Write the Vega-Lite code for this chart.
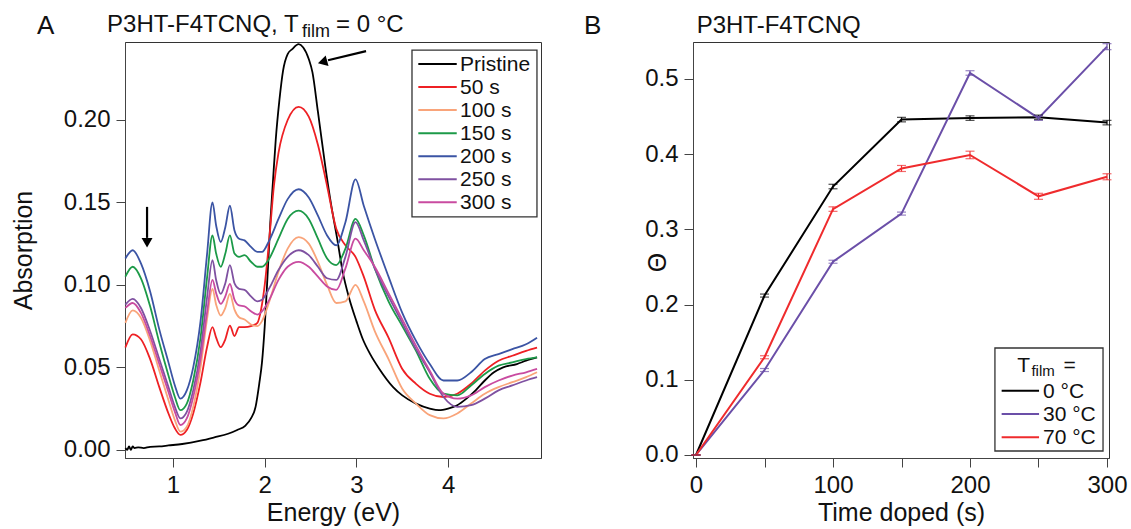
{
  "$schema": "https://vega.github.io/schema/vega-lite/v6.json",
  "background": "white",
  "padding": {"left": 10, "top": 12, "right": 0, "bottom": 3},
  "bounds": "flush",
  "spacing": 152,
  "resolve": {"scale": {"color": "independent"}, "legend": {"color": "independent"}},
  "config": {
    "font": "Liberation Sans",
    "view": {"stroke": "#333", "strokeWidth": 1},
    "axis": {"labelFont": "Liberation Sans", "titleFont": "Liberation Sans", "labelFontSize": 24, "titleFontSize": 25, "titleFontWeight": "normal", "labelColor": "#111", "titleColor": "#111", "tickColor": "#444", "domainColor": "#444", "tickSize": 9, "grid": false, "labelPadding": 6}
  },
  "datasets": {
    "spectra": [
      {"s":"Pristine","e":0.48,"a":0.001},{"s":"Pristine","e":0.50,"a":0.0},{"s":"Pristine","e":0.52,"a":0.002},{"s":"Pristine","e":0.54,"a":0.0},{"s":"Pristine","e":0.56,"a":0.002},{"s":"Pristine","e":0.58,"a":0.001},{"s":"Pristine","e":0.62,"a":0.0015},{"s":"Pristine","e":0.68,"a":0.001},{"s":"Pristine","e":0.75,"a":0.0018},{"s":"Pristine","e":0.85,"a":0.002},{"s":"Pristine","e":0.95,"a":0.0026},{"s":"Pristine","e":1.1,"a":0.0035},{"s":"Pristine","e":1.3,"a":0.0055},{"s":"Pristine","e":1.45,"a":0.0075},{"s":"Pristine","e":1.6,"a":0.0097},{"s":"Pristine","e":1.7,"a":0.012},{"s":"Pristine","e":1.79,"a":0.0147},{"s":"Pristine","e":1.85,"a":0.019},{"s":"Pristine","e":1.9,"a":0.026},{"s":"Pristine","e":1.94,"a":0.040},{"s":"Pristine","e":1.97,"a":0.053},{"s":"Pristine","e":2.0,"a":0.075},{"s":"Pristine","e":2.03,"a":0.105},{"s":"Pristine","e":2.06,"a":0.137},{"s":"Pristine","e":2.09,"a":0.163},{"s":"Pristine","e":2.12,"a":0.188},{"s":"Pristine","e":2.16,"a":0.212},{"s":"Pristine","e":2.2,"a":0.230},{"s":"Pristine","e":2.25,"a":0.240},{"s":"Pristine","e":2.3,"a":0.243},{"s":"Pristine","e":2.37,"a":0.246},{"s":"Pristine","e":2.42,"a":0.244},{"s":"Pristine","e":2.48,"a":0.237},{"s":"Pristine","e":2.52,"a":0.229},{"s":"Pristine","e":2.58,"a":0.205},{"s":"Pristine","e":2.66,"a":0.172},{"s":"Pristine","e":2.72,"a":0.150},{"s":"Pristine","e":2.79,"a":0.128},{"s":"Pristine","e":2.85,"a":0.108},{"s":"Pristine","e":2.92,"a":0.092},{"s":"Pristine","e":3.0,"a":0.078},{"s":"Pristine","e":3.07,"a":0.067},{"s":"Pristine","e":3.15,"a":0.058},{"s":"Pristine","e":3.25,"a":0.049},{"s":"Pristine","e":3.4,"a":0.038},{"s":"Pristine","e":3.5,"a":0.033},{"s":"Pristine","e":3.65,"a":0.028},{"s":"Pristine","e":3.8,"a":0.025},{"s":"Pristine","e":3.9,"a":0.024},{"s":"Pristine","e":4.0,"a":0.025},{"s":"Pristine","e":4.1,"a":0.027},{"s":"Pristine","e":4.2,"a":0.031},{"s":"Pristine","e":4.3,"a":0.036},{"s":"Pristine","e":4.4,"a":0.042},{"s":"Pristine","e":4.5,"a":0.047},{"s":"Pristine","e":4.6,"a":0.050},{"s":"Pristine","e":4.75,"a":0.052},{"s":"Pristine","e":4.85,"a":0.054},{"s":"Pristine","e":4.97,"a":0.056},

      {"s":"50 s","e":0.48,"a":0.062},{"s":"50 s","e":0.56,"a":0.070},{"s":"50 s","e":0.65,"a":0.067},{"s":"50 s","e":0.75,"a":0.055},{"s":"50 s","e":0.85,"a":0.038},{"s":"50 s","e":0.95,"a":0.022},{"s":"50 s","e":1.02,"a":0.013},{"s":"50 s","e":1.08,"a":0.009},{"s":"50 s","e":1.15,"a":0.012},{"s":"50 s","e":1.22,"a":0.022},{"s":"50 s","e":1.30,"a":0.041},{"s":"50 s","e":1.37,"a":0.062},{"s":"50 s","e":1.43,"a":0.0744},{"s":"50 s","e":1.47,"a":0.068},{"s":"50 s","e":1.52,"a":0.0622},{"s":"50 s","e":1.57,"a":0.067},{"s":"50 s","e":1.62,"a":0.0753},{"s":"50 s","e":1.67,"a":0.069},{"s":"50 s","e":1.72,"a":0.0744},{"s":"50 s","e":1.78,"a":0.0744},{"s":"50 s","e":1.85,"a":0.075},{"s":"50 s","e":1.92,"a":0.077},{"s":"50 s","e":1.96,"a":0.085},{"s":"50 s","e":2.0,"a":0.100},{"s":"50 s","e":2.05,"a":0.128},{"s":"50 s","e":2.1,"a":0.160},{"s":"50 s","e":2.15,"a":0.180},{"s":"50 s","e":2.25,"a":0.200},{"s":"50 s","e":2.37,"a":0.208},{"s":"50 s","e":2.48,"a":0.202},{"s":"50 s","e":2.58,"a":0.185},{"s":"50 s","e":2.68,"a":0.160},{"s":"50 s","e":2.78,"a":0.134},{"s":"50 s","e":2.88,"a":0.124},{"s":"50 s","e":2.99,"a":0.117},{"s":"50 s","e":3.08,"a":0.105},{"s":"50 s","e":3.2,"a":0.085},{"s":"50 s","e":3.35,"a":0.068},{"s":"50 s","e":3.5,"a":0.049},{"s":"50 s","e":3.65,"a":0.040},{"s":"50 s","e":3.8,"a":0.034},{"s":"50 s","e":3.95,"a":0.032},{"s":"50 s","e":4.1,"a":0.034},{"s":"50 s","e":4.25,"a":0.040},{"s":"50 s","e":4.4,"a":0.048},{"s":"50 s","e":4.55,"a":0.054},{"s":"50 s","e":4.7,"a":0.057},{"s":"50 s","e":4.85,"a":0.060},{"s":"50 s","e":4.97,"a":0.062},

      {"s":"100 s","e":0.48,"a":0.077},{"s":"100 s","e":0.56,"a":0.0845},{"s":"100 s","e":0.65,"a":0.080},{"s":"100 s","e":0.75,"a":0.066},{"s":"100 s","e":0.85,"a":0.048},{"s":"100 s","e":0.95,"a":0.030},{"s":"100 s","e":1.02,"a":0.018},{"s":"100 s","e":1.08,"a":0.011},{"s":"100 s","e":1.15,"a":0.014},{"s":"100 s","e":1.22,"a":0.026},{"s":"100 s","e":1.30,"a":0.050},{"s":"100 s","e":1.37,"a":0.079},{"s":"100 s","e":1.43,"a":0.0976},{"s":"100 s","e":1.47,"a":0.088},{"s":"100 s","e":1.52,"a":0.0814},{"s":"100 s","e":1.57,"a":0.086},{"s":"100 s","e":1.62,"a":0.0945},{"s":"100 s","e":1.67,"a":0.085},{"s":"100 s","e":1.72,"a":0.0804},{"s":"100 s","e":1.78,"a":0.079},{"s":"100 s","e":1.85,"a":0.076},{"s":"100 s","e":1.92,"a":0.075},{"s":"100 s","e":1.97,"a":0.078},{"s":"100 s","e":2.05,"a":0.090},{"s":"100 s","e":2.15,"a":0.108},{"s":"100 s","e":2.25,"a":0.122},{"s":"100 s","e":2.37,"a":0.129},{"s":"100 s","e":2.48,"a":0.125},{"s":"100 s","e":2.58,"a":0.114},{"s":"100 s","e":2.68,"a":0.100},{"s":"100 s","e":2.78,"a":0.089},{"s":"100 s","e":2.88,"a":0.090},{"s":"100 s","e":2.99,"a":0.100},{"s":"100 s","e":3.08,"a":0.090},{"s":"100 s","e":3.2,"a":0.072},{"s":"100 s","e":3.35,"a":0.055},{"s":"100 s","e":3.5,"a":0.037},{"s":"100 s","e":3.65,"a":0.028},{"s":"100 s","e":3.8,"a":0.021},{"s":"100 s","e":3.95,"a":0.019},{"s":"100 s","e":4.1,"a":0.022},{"s":"100 s","e":4.25,"a":0.028},{"s":"100 s","e":4.4,"a":0.034},{"s":"100 s","e":4.55,"a":0.038},{"s":"100 s","e":4.7,"a":0.041},{"s":"100 s","e":4.85,"a":0.044},{"s":"100 s","e":4.97,"a":0.047},

      {"s":"150 s","e":0.48,"a":0.105},{"s":"150 s","e":0.56,"a":0.111},{"s":"150 s","e":0.65,"a":0.104},{"s":"150 s","e":0.75,"a":0.087},{"s":"150 s","e":0.85,"a":0.065},{"s":"150 s","e":0.95,"a":0.045},{"s":"150 s","e":1.02,"a":0.032},{"s":"150 s","e":1.08,"a":0.024},{"s":"150 s","e":1.15,"a":0.028},{"s":"150 s","e":1.22,"a":0.042},{"s":"150 s","e":1.30,"a":0.068},{"s":"150 s","e":1.37,"a":0.104},{"s":"150 s","e":1.43,"a":0.130},{"s":"150 s","e":1.47,"a":0.119},{"s":"150 s","e":1.52,"a":0.111},{"s":"150 s","e":1.57,"a":0.119},{"s":"150 s","e":1.62,"a":0.130},{"s":"150 s","e":1.67,"a":0.119},{"s":"150 s","e":1.72,"a":0.117},{"s":"150 s","e":1.78,"a":0.118},{"s":"150 s","e":1.85,"a":0.114},{"s":"150 s","e":1.92,"a":0.111},{"s":"150 s","e":1.97,"a":0.111},{"s":"150 s","e":2.05,"a":0.116},{"s":"150 s","e":2.15,"a":0.128},{"s":"150 s","e":2.25,"a":0.140},{"s":"150 s","e":2.37,"a":0.145},{"s":"150 s","e":2.48,"a":0.140},{"s":"150 s","e":2.58,"a":0.128},{"s":"150 s","e":2.68,"a":0.116},{"s":"150 s","e":2.78,"a":0.112},{"s":"150 s","e":2.88,"a":0.122},{"s":"150 s","e":2.99,"a":0.140},{"s":"150 s","e":3.08,"a":0.130},{"s":"150 s","e":3.2,"a":0.110},{"s":"150 s","e":3.35,"a":0.090},{"s":"150 s","e":3.5,"a":0.075},{"s":"150 s","e":3.65,"a":0.060},{"s":"150 s","e":3.8,"a":0.043},{"s":"150 s","e":3.95,"a":0.034},{"s":"150 s","e":4.1,"a":0.033},{"s":"150 s","e":4.25,"a":0.039},{"s":"150 s","e":4.4,"a":0.046},{"s":"150 s","e":4.55,"a":0.051},{"s":"150 s","e":4.7,"a":0.053},{"s":"150 s","e":4.85,"a":0.055},{"s":"150 s","e":4.97,"a":0.056},

      {"s":"200 s","e":0.48,"a":0.116},{"s":"200 s","e":0.56,"a":0.121},{"s":"200 s","e":0.65,"a":0.113},{"s":"200 s","e":0.75,"a":0.096},{"s":"200 s","e":0.85,"a":0.073},{"s":"200 s","e":0.95,"a":0.053},{"s":"200 s","e":1.02,"a":0.039},{"s":"200 s","e":1.08,"a":0.031},{"s":"200 s","e":1.15,"a":0.036},{"s":"200 s","e":1.22,"a":0.050},{"s":"200 s","e":1.30,"a":0.078},{"s":"200 s","e":1.37,"a":0.118},{"s":"200 s","e":1.43,"a":0.150},{"s":"200 s","e":1.47,"a":0.136},{"s":"200 s","e":1.52,"a":0.126},{"s":"200 s","e":1.57,"a":0.135},{"s":"200 s","e":1.62,"a":0.148},{"s":"200 s","e":1.67,"a":0.133},{"s":"200 s","e":1.72,"a":0.128},{"s":"200 s","e":1.78,"a":0.127},{"s":"200 s","e":1.85,"a":0.123},{"s":"200 s","e":1.92,"a":0.120},{"s":"200 s","e":1.97,"a":0.120},{"s":"200 s","e":2.05,"a":0.127},{"s":"200 s","e":2.15,"a":0.140},{"s":"200 s","e":2.25,"a":0.152},{"s":"200 s","e":2.37,"a":0.158},{"s":"200 s","e":2.48,"a":0.153},{"s":"200 s","e":2.58,"a":0.142},{"s":"200 s","e":2.68,"a":0.130},{"s":"200 s","e":2.78,"a":0.124},{"s":"200 s","e":2.88,"a":0.138},{"s":"200 s","e":2.99,"a":0.164},{"s":"200 s","e":3.08,"a":0.148},{"s":"200 s","e":3.2,"a":0.128},{"s":"200 s","e":3.35,"a":0.105},{"s":"200 s","e":3.5,"a":0.083},{"s":"200 s","e":3.65,"a":0.066},{"s":"200 s","e":3.8,"a":0.052},{"s":"200 s","e":3.95,"a":0.042},{"s":"200 s","e":4.1,"a":0.042},{"s":"200 s","e":4.25,"a":0.047},{"s":"200 s","e":4.4,"a":0.055},{"s":"200 s","e":4.55,"a":0.058},{"s":"200 s","e":4.7,"a":0.061},{"s":"200 s","e":4.85,"a":0.064},{"s":"200 s","e":4.97,"a":0.068},

      {"s":"250 s","e":0.48,"a":0.088},{"s":"250 s","e":0.56,"a":0.0915},{"s":"250 s","e":0.65,"a":0.086},{"s":"250 s","e":0.75,"a":0.072},{"s":"250 s","e":0.85,"a":0.055},{"s":"250 s","e":0.95,"a":0.038},{"s":"250 s","e":1.02,"a":0.026},{"s":"250 s","e":1.08,"a":0.019},{"s":"250 s","e":1.15,"a":0.023},{"s":"250 s","e":1.22,"a":0.036},{"s":"250 s","e":1.30,"a":0.060},{"s":"250 s","e":1.37,"a":0.092},{"s":"250 s","e":1.43,"a":0.115},{"s":"250 s","e":1.47,"a":0.103},{"s":"250 s","e":1.52,"a":0.0945},{"s":"250 s","e":1.57,"a":0.101},{"s":"250 s","e":1.62,"a":0.112},{"s":"250 s","e":1.67,"a":0.101},{"s":"250 s","e":1.72,"a":0.0976},{"s":"250 s","e":1.78,"a":0.097},{"s":"250 s","e":1.85,"a":0.093},{"s":"250 s","e":1.92,"a":0.090},{"s":"250 s","e":1.97,"a":0.091},{"s":"250 s","e":2.05,"a":0.098},{"s":"250 s","e":2.15,"a":0.109},{"s":"250 s","e":2.25,"a":0.117},{"s":"250 s","e":2.37,"a":0.121},{"s":"250 s","e":2.48,"a":0.118},{"s":"250 s","e":2.58,"a":0.111},{"s":"250 s","e":2.68,"a":0.104},{"s":"250 s","e":2.78,"a":0.103},{"s":"250 s","e":2.88,"a":0.117},{"s":"250 s","e":2.99,"a":0.138},{"s":"250 s","e":3.08,"a":0.127},{"s":"250 s","e":3.2,"a":0.110},{"s":"250 s","e":3.35,"a":0.093},{"s":"250 s","e":3.5,"a":0.077},{"s":"250 s","e":3.65,"a":0.061},{"s":"250 s","e":3.8,"a":0.047},{"s":"250 s","e":3.95,"a":0.032},{"s":"250 s","e":4.1,"a":0.026},{"s":"250 s","e":4.25,"a":0.027},{"s":"250 s","e":4.4,"a":0.031},{"s":"250 s","e":4.55,"a":0.036},{"s":"250 s","e":4.7,"a":0.039},{"s":"250 s","e":4.85,"a":0.042},{"s":"250 s","e":4.97,"a":0.044},

      {"s":"300 s","e":0.48,"a":0.086},{"s":"300 s","e":0.56,"a":0.089},{"s":"300 s","e":0.65,"a":0.083},{"s":"300 s","e":0.75,"a":0.069},{"s":"300 s","e":0.85,"a":0.052},{"s":"300 s","e":0.95,"a":0.035},{"s":"300 s","e":1.02,"a":0.023},{"s":"300 s","e":1.08,"a":0.015},{"s":"300 s","e":1.15,"a":0.019},{"s":"300 s","e":1.22,"a":0.032},{"s":"300 s","e":1.30,"a":0.055},{"s":"300 s","e":1.37,"a":0.083},{"s":"300 s","e":1.43,"a":0.103},{"s":"300 s","e":1.47,"a":0.095},{"s":"300 s","e":1.52,"a":0.0885},{"s":"300 s","e":1.57,"a":0.093},{"s":"300 s","e":1.62,"a":0.1006},{"s":"300 s","e":1.67,"a":0.091},{"s":"300 s","e":1.72,"a":0.0875},{"s":"300 s","e":1.78,"a":0.087},{"s":"300 s","e":1.85,"a":0.084},{"s":"300 s","e":1.92,"a":0.082},{"s":"300 s","e":1.97,"a":0.084},{"s":"300 s","e":2.05,"a":0.091},{"s":"300 s","e":2.15,"a":0.103},{"s":"300 s","e":2.25,"a":0.111},{"s":"300 s","e":2.37,"a":0.114},{"s":"300 s","e":2.48,"a":0.111},{"s":"300 s","e":2.58,"a":0.105},{"s":"300 s","e":2.68,"a":0.099},{"s":"300 s","e":2.78,"a":0.097},{"s":"300 s","e":2.88,"a":0.110},{"s":"300 s","e":2.99,"a":0.128},{"s":"300 s","e":3.08,"a":0.121},{"s":"300 s","e":3.2,"a":0.111},{"s":"300 s","e":3.35,"a":0.095},{"s":"300 s","e":3.5,"a":0.079},{"s":"300 s","e":3.65,"a":0.063},{"s":"300 s","e":3.8,"a":0.048},{"s":"300 s","e":3.95,"a":0.034},{"s":"300 s","e":4.1,"a":0.031},{"s":"300 s","e":4.25,"a":0.033},{"s":"300 s","e":4.4,"a":0.038},{"s":"300 s","e":4.55,"a":0.042},{"s":"300 s","e":4.7,"a":0.045},{"s":"300 s","e":4.85,"a":0.047},{"s":"300 s","e":4.97,"a":0.049}
    ],
    "theta": [
      {"t":"0 °C","time":0,"v":0.0,"err":0.0},{"t":"0 °C","time":50,"v":0.212,"err":0.002},{"t":"0 °C","time":100,"v":0.357,"err":0.003},{"t":"0 °C","time":150,"v":0.446,"err":0.003},{"t":"0 °C","time":200,"v":0.448,"err":0.003},{"t":"0 °C","time":250,"v":0.449,"err":0.003},{"t":"0 °C","time":300,"v":0.442,"err":0.003},
      {"t":"30 °C","time":0,"v":0.0,"err":0.0},{"t":"30 °C","time":50,"v":0.113,"err":0.002},{"t":"30 °C","time":100,"v":0.257,"err":0.002},{"t":"30 °C","time":150,"v":0.321,"err":0.002},{"t":"30 °C","time":200,"v":0.508,"err":0.003},{"t":"30 °C","time":250,"v":0.448,"err":0.003},{"t":"30 °C","time":300,"v":0.543,"err":0.004},
      {"t":"70 °C","time":0,"v":0.0,"err":0.0},{"t":"70 °C","time":50,"v":0.130,"err":0.002},{"t":"70 °C","time":100,"v":0.327,"err":0.003},{"t":"70 °C","time":150,"v":0.381,"err":0.004},{"t":"70 °C","time":200,"v":0.399,"err":0.005},{"t":"70 °C","time":250,"v":0.344,"err":0.004},{"t":"70 °C","time":300,"v":0.370,"err":0.004}
    ],
    "one": [{}],
    "legA": [{"s":"Pristine"},{"s":"50 s"},{"s":"100 s"},{"s":"150 s"},{"s":"200 s"},{"s":"250 s"},{"s":"300 s"}],
    "legB": [{"t":"0 °C"},{"t":"30 °C"},{"t":"70 °C"}]
  },
  "hconcat": [
    {
      "width": 416,
      "height": 416,
      "resolve": {"scale": {"y": "independent"}},
      "layer": [
        {
          "layer": [
            {
              "data": {"name": "spectra"},
              "mark": {"type": "line", "strokeWidth": 1.8, "interpolate": "monotone"},
              "encoding": {
                "x": {"field": "e", "type": "quantitative", "scale": {"domain": [0.476, 5.013], "nice": false, "zero": false}, "axis": {"title": "Energy (eV)", "values": [1, 2, 3, 4], "format": "d", "titlePadding": 3}},
                "y": {"field": "a", "type": "quantitative", "scale": {"domain": [-0.005, 0.2473], "nice": false, "zero": false}, "axis": {"title": "Absorption", "values": [0, 0.05, 0.1, 0.15, 0.2], "format": ".2f", "titlePadding": 27}},
                "color": {"field": "s", "type": "nominal", "scale": {"domain": ["Pristine", "50 s", "100 s", "150 s", "200 s", "250 s", "300 s"], "range": ["#000000", "#ee2024", "#f9a47a", "#1c9a48", "#3b54a4", "#7f51a1", "#c94ba0"]}, "legend": null},
                "order": {"field": "e", "type": "quantitative"}
              }
            },
            {
              "data": {"name": "one"},
              "mark": {"type": "rect", "fill": "white", "stroke": "#333", "strokeWidth": 1.3},
              "encoding": {"x": {"datum": 3.606}, "x2": {"datum": 4.969}, "y": {"datum": 0.2424}, "y2": {"datum": 0.1412}}
            },
            {
              "data": {"name": "one"},
              "mark": {"type": "rule", "strokeWidth": 2.2, "color": "black"},
              "encoding": {"x": {"datum": 0.7165}, "y": {"datum": 0.1473}, "y2": {"datum": 0.1285}}
            },
            {
              "data": {"name": "one"},
              "mark": {"type": "point", "shape": "triangle-down", "filled": true, "color": "black", "size": 120, "opacity": 1},
              "encoding": {"x": {"datum": 0.7165}, "y": {"datum": 0.1255}}
            },
            {
              "data": {"name": "one"},
              "mark": {"type": "rule", "strokeWidth": 2.2, "color": "black"},
              "encoding": {"x": {"datum": 3.105}, "y": {"datum": 0.2418}, "x2": {"datum": 2.69}, "y2": {"datum": 0.2362}}
            },
            {
              "data": {"name": "one"},
              "mark": {"type": "point", "shape": "triangle-left", "filled": true, "color": "black", "size": 120, "angle": 345, "opacity": 1},
              "encoding": {"x": {"datum": 2.63}, "y": {"datum": 0.2352}}
            },
            {
              "data": {"name": "one"},
              "mark": {"type": "text", "align": "left", "baseline": "alphabetic", "fontSize": 26, "color": "#111"},
              "encoding": {"x": {"datum": -0.483}, "y": {"datum": 0.2521}, "text": {"value": "A"}}
            },
            {
              "data": {"name": "one"},
              "mark": {"type": "text", "align": "left", "baseline": "alphabetic", "fontSize": 24, "color": "#111"},
              "encoding": {"x": {"datum": 0.28}, "y": {"datum": 0.2533}, "text": {"value": "P3HT-F4TCNQ, T"}}
            },
            {
              "data": {"name": "one"},
              "mark": {"type": "text", "align": "left", "baseline": "alphabetic", "fontSize": 18, "color": "#111"},
              "encoding": {"x": {"datum": 2.407}, "y": {"datum": 0.2503}, "text": {"value": "film"}}
            },
            {
              "data": {"name": "one"},
              "mark": {"type": "text", "align": "left", "baseline": "alphabetic", "fontSize": 24, "color": "#111"},
              "encoding": {"x": {"datum": 2.778}, "y": {"datum": 0.2533}, "text": {"value": "= 0 °C"}}
            }
          ]
        },
        {
          "data": {"name": "legA"},
          "layer": [
            {
              "mark": {"type": "rule", "strokeWidth": 2},
              "encoding": {
                "x": {"datum": 3.675},
                "x2": {"datum": 4.094},
                "y": {"field": "s", "type": "ordinal", "scale": {"type": "point", "domain": ["Pristine", "50 s", "100 s", "150 s", "200 s", "250 s", "300 s"], "range": [22, 160.3], "padding": 0}, "axis": null},
                "color": {"field": "s", "type": "nominal", "legend": null}
              }
            },
            {
              "mark": {"type": "text", "align": "left", "baseline": "middle", "fontSize": 21, "color": "#111", "dy": 1},
              "encoding": {
                "x": {"datum": 4.13},
                "y": {"field": "s", "type": "ordinal"},
                "text": {"field": "s"}
              }
            }
          ]
        }
      ]
    },
    {
      "width": 416,
      "height": 416,
      "resolve": {"scale": {"y": "independent"}},
      "layer": [
        {
          "layer": [
            {
              "data": {"name": "theta"},
              "mark": {"type": "line", "strokeWidth": 2},
              "encoding": {
                "x": {"field": "time", "type": "quantitative", "scale": {"domain": [-2.19, 301.46], "nice": false, "zero": false}, "axis": {"title": "Time doped (s)", "values": [0, 50, 100, 150, 200, 250, 300], "labelExpr": "datum.value % 100 == 0 ? format(datum.value, 'd') : ''", "titlePadding": 3}},
                "y": {"field": "v", "type": "quantitative", "scale": {"domain": [-0.004, 0.5492], "nice": false, "zero": false}, "axis": {"title": "Θ", "values": [0, 0.1, 0.2, 0.3, 0.4, 0.5], "format": ".1f", "titlePadding": -26, "titleY": 220}},
                "color": {"field": "t", "type": "nominal", "scale": {"domain": ["0 °C", "30 °C", "70 °C"], "range": ["#000000", "#6b4fa8", "#ef2b2d"]}, "legend": null}
              }
            },
            {
              "data": {"name": "theta"},
              "mark": {"type": "errorbar", "ticks": {"size": 9}, "thickness": 1.2},
              "encoding": {
                "x": {"field": "time", "type": "quantitative"},
                "y": {"field": "v", "type": "quantitative", "title": "Θ"},
                "yError": {"field": "err"},
                "color": {"field": "t", "type": "nominal", "legend": null}
              }
            },
            {
              "data": {"name": "one"},
              "mark": {"type": "rect", "fill": "white", "stroke": "#333", "strokeWidth": 1.3},
              "encoding": {"x": {"datum": 218.2}, "x2": {"datum": 297.1}, "y": {"datum": 0.1423}, "y2": {"datum": 0.0053}}
            },
            {
              "data": {"name": "one"},
              "mark": {"type": "text", "align": "left", "baseline": "alphabetic", "fontSize": 26, "color": "#111"},
              "encoding": {"x": {"datum": -81.8}, "y": {"datum": 0.5598}, "text": {"value": "B"}}
            },
            {
              "data": {"name": "one"},
              "mark": {"type": "text", "align": "left", "baseline": "alphabetic", "fontSize": 24, "color": "#111"},
              "encoding": {"x": {"datum": 0.5}, "y": {"datum": 0.5612}, "text": {"value": "P3HT-F4TCNQ"}}
            },
            {
              "data": {"name": "one"},
              "mark": {"type": "text", "align": "left", "baseline": "alphabetic", "fontSize": 21, "color": "#111"},
              "encoding": {"x": {"datum": 234.5}, "y": {"datum": 0.1104}, "text": {"value": "T"}}
            },
            {
              "data": {"name": "one"},
              "mark": {"type": "text", "align": "left", "baseline": "alphabetic", "fontSize": 15, "color": "#111"},
              "encoding": {"x": {"datum": 244.8}, "y": {"datum": 0.1051}, "text": {"value": "film"}}
            },
            {
              "data": {"name": "one"},
              "mark": {"type": "text", "align": "left", "baseline": "alphabetic", "fontSize": 21, "color": "#111"},
              "encoding": {"x": {"datum": 268.2}, "y": {"datum": 0.1104}, "text": {"value": "="}}
            }
          ]
        },
        {
          "data": {"name": "legB"},
          "layer": [
            {
              "mark": {"type": "rule", "strokeWidth": 2},
              "encoding": {
                "x": {"datum": 223.1},
                "x2": {"datum": 250.4},
                "y": {"field": "t", "type": "ordinal", "scale": {"type": "point", "domain": ["0 °C", "30 °C", "70 °C"], "range": [348.7, 395.3], "padding": 0}, "axis": null},
                "color": {"field": "t", "type": "nominal", "legend": null}
              }
            },
            {
              "mark": {"type": "text", "align": "left", "baseline": "middle", "fontSize": 21, "color": "#111", "dy": 1},
              "encoding": {
                "x": {"datum": 253.3},
                "y": {"field": "t", "type": "ordinal"},
                "text": {"field": "t"}
              }
            }
          ]
        }
      ]
    }
  ]
}
